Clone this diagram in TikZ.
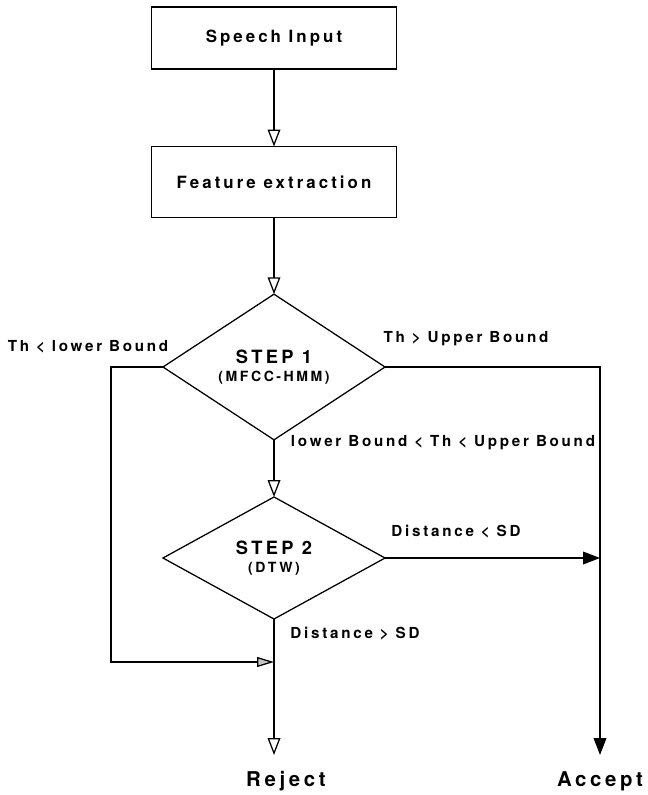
\documentclass[tikz,border=0pt]{standalone}
\usepackage{fontspec}
\setmainfont{TeX Gyre Heros}[LetterSpace=18]
\usetikzlibrary{arrows.meta,shapes.geometric}

\tikzset{
  flow/.style={line width=0.9pt},
  blockbox/.style={draw, flow, outer sep=0pt, minimum width=6.125cm, font=\fontsize{12}{14}\selectfont\bfseries},
  decision/.style={draw, flow, diamond, inner sep=0pt, outer sep=0pt, minimum width=5.55cm, minimum height=3.05cm, align=center, font=\bfseries},
  cond/.style={font=\fontsize{10.8}{13}\selectfont\bfseries},
  result/.style={font=\fontsize{14.5}{17}\selectfont\bfseries},
  openhead/.style={flow, -{Triangle[open, length=12pt, width=9pt]}},
  fullhead/.style={flow, -{Triangle[length=12pt, width=9pt]}},
  grayhead/.style={flow, -{Triangle[fill=gray!45, length=12pt, width=7pt]}},
}

\begin{document}
\begin{tikzpicture}[x=0.025cm, y=-0.025cm]
    \useasboundingbox (0,0) rectangle (648,795);

    \node[blockbox, minimum height=1.55cm] (speech) at (274,38) {Speech Input};
    \node[blockbox, minimum height=1.775cm] (feature) at (274,182) {Feature extraction};
    \node[decision] (step1) at (274,367) {{\fontsize{13}{15}\selectfont STEP 1}\\[1pt]{\fontsize{10}{12}\selectfont (MFCC-HMM)}};
    \node[decision] (step2) at (274,558) {{\fontsize{13}{15}\selectfont STEP 2}\\[1pt]{\fontsize{10}{12}\selectfont (DTW)}};

    \coordinate (lcorner) at (111,662);
    \coordinate (rjoin) at (274,662);
    \coordinate (rtip) at (274,755);
    \coordinate (atip) at (600,755);
    \coordinate (ajoin) at (600,558);

    \draw[openhead] (speech) -- (feature);
    \draw[openhead] (feature) -- (step1);
    \draw[openhead] (step1) -- (step2);
    \draw[grayhead] (step1.west) -| (lcorner) -- (rjoin);
    \draw[fullhead] (step1.east) -| (atip);
    \draw[fullhead] (step2.east) -- (ajoin);
    \draw[openhead] (step2.south) -- (rtip);

    \node[cond] (lowlab) at (88,347) {Th < lower Bound};
    \node[cond] (uplab) at (466,339) {Th > Upper Bound};
    \node[cond] (midlab) at (443,443) {lower Bound < Th < Upper Bound};
    \node[cond] (lesslab) at (456,532) {Distance < SD};
    \node[cond] (morelab) at (355,634) {Distance > SD};

    \node[result] (reject) at (286,781) {Reject};
    \node[result] (accept) at (600,781) {Accept};
\end{tikzpicture}
\end{document}
